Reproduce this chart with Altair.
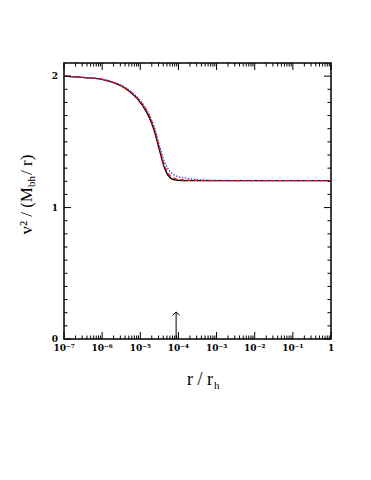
import altair as alt
import pandas as pd

# ---------------- data ----------------
log_r = [-7, -6.5, -6, -5.75, -5.5, -5.25, -5, -4.875, -4.75, -4.625, -4.5,
         -4.375, -4.25, -4.125, -4, -3.75, -3.5, -3, -2, -1, 0]
black = [2.0, 1.99, 1.975, 1.955, 1.925, 1.875, 1.80, 1.745, 1.675, 1.575, 1.44,
         1.31, 1.237, 1.213, 1.207, 1.205, 1.205, 1.205, 1.205, 1.205, 1.205]
red = [2.0, 1.99, 1.976, 1.957, 1.928, 1.88, 1.808, 1.756, 1.69, 1.592, 1.458,
       1.328, 1.252, 1.225, 1.215, 1.208, 1.206, 1.205, 1.205, 1.205, 1.205]
blue = [2.0, 1.99, 1.977, 1.958, 1.93, 1.885, 1.815, 1.765, 1.70, 1.605, 1.475,
        1.355, 1.285, 1.25, 1.235, 1.222, 1.213, 1.207, 1.205, 1.205, 1.205]

series_names = ["black", "blue", "red"]
series_values = [black, blue, red]
series_colors = ["#000000", "#3344ff", "#ff0000"]
series_dash = [[1, 0], [1.5, 1.5], [4, 3]]

x_decades = [1e-7, 1e-6, 1e-5, 1e-4, 1e-3, 1e-2, 1e-1, 1]
x_labels = ["10⁻⁷", "10⁻⁶", "10⁻⁵", "10⁻⁴", "10⁻³", "10⁻²", "10⁻¹", "1"]
x_minor_mult = [2, 3, 4, 5, 6, 7, 8, 9]
y_major = [0, 1, 2]
y_labels = ["0", "1", "2"]
y_minor = [0.1, 0.2, 0.3, 0.4, 0.5, 0.6, 0.7, 0.8, 0.9,
           1.1, 1.2, 1.3, 1.4, 1.5, 1.6, 1.7, 1.8, 1.9]

arrow_r = [8.7e-5]
arrow_base = [0.0]
arrow_top = [0.205]

W, H = 267, 276
TFONT = "Liberation Serif"
LFONT = "DejaVu Serif"

xscale = alt.Scale(type="log", domain=[1e-7, 1], nice=False)
yscale = alt.Scale(domain=[0, 2.1], nice=False, zero=False)

# ---------------- curves ----------------
line_layers = []
for name, vals, col, dash in zip(series_names, series_values,
                                 series_colors, series_dash):
    df = pd.DataFrame({"r": [10 ** lr for lr in log_r], "v": vals})
    line_layers.append(
        alt.Chart(df).mark_line(strokeWidth=1.3, interpolate="monotone",
                                color=col, strokeDash=dash).encode(
            x=alt.X("r:Q", scale=xscale, axis=None),
            y=alt.Y("v:Q", scale=yscale, axis=None),
        )
    )

# ---------------- ticks ----------------
x_minor = [m * d for d in x_decades[:-1] for m in x_minor_mult]
xmaj_df = pd.DataFrame({"r": x_decades, "lab": x_labels})
xmin_df = pd.DataFrame({"r": x_minor})
ymaj_df = pd.DataFrame({"v": y_major, "lab": y_labels})
ymin_df = pd.DataFrame({"v": y_minor})
arrow_df = pd.DataFrame({"r": arrow_r, "v0": arrow_base, "v1": arrow_top})


def xticks(df, y0, y1):
    return alt.Chart(df).mark_rule(color="black", strokeWidth=1).encode(
        x=alt.X("r:Q", scale=xscale, axis=None), y=alt.value(y0), y2=alt.value(y1))


def yticks(df, x0, x1):
    return alt.Chart(df).mark_rule(color="black", strokeWidth=1).encode(
        y=alt.Y("v:Q", scale=yscale, axis=None), x=alt.value(x0), x2=alt.value(x1))


MAJ, MIN = 7, 3.5
tick_layers = [
    xticks(xmaj_df, H, H - MAJ), xticks(xmin_df, H, H - MIN),
    xticks(xmaj_df, 0, MAJ), xticks(xmin_df, 0, MIN),
    yticks(ymaj_df, 0, MAJ), yticks(ymin_df, 0, MIN),
    yticks(ymaj_df, W, W - MAJ), yticks(ymin_df, W, W - MIN),
]

# tick labels
xlab = alt.Chart(xmaj_df).mark_text(
    font=LFONT, fontWeight="bold", fontSize=9, align="center",
    baseline="middle", color="black").encode(
    x=alt.X("r:Q", scale=xscale, axis=None), y=alt.value(H + 9), text="lab:N")
ylab = alt.Chart(ymaj_df).mark_text(
    font=LFONT, fontWeight="bold", fontSize=9, align="right",
    baseline="middle", color="black").encode(
    y=alt.Y("v:Q", scale=yscale, axis=None), x=alt.value(-6), text="lab:N")

# ---------------- arrow ----------------
arrow_shaft = alt.Chart(arrow_df).mark_rule(color="black", strokeWidth=1).encode(
    x=alt.X("r:Q", scale=xscale, axis=None),
    y=alt.Y("v0:Q", scale=yscale, axis=None), y2="v1:Q")
arrow_head = alt.Chart(arrow_df).mark_point(
    shape="M-1,0.9L0,0L1,0.9", filled=False, color="black", strokeWidth=1,
    size=50, opacity=1).encode(
    x=alt.X("r:Q", scale=xscale, axis=None),
    y=alt.Y("v1:Q", scale=yscale, axis=None))

# ---------------- axis titles ----------------
title_df = pd.DataFrame({"t": [0]})


def txt(text, x, y, size, align="left", angle=0):
    return alt.Chart(title_df).mark_text(
        text=text, font=TFONT, fontSize=size, align=align, baseline="alphabetic",
        angle=angle, color="black").encode(x=alt.value(x), y=alt.value(y))


titles = [
    txt("r / r", 149, 322, 18, align="right"),
    txt("h", 150, 325.5, 11, align="left"),
    txt("v² / (M", -32.5, 124, 17, align="right", angle=270),
    txt("bh", -29.5, 124, 11, align="left", angle=270),
    txt("/ r)", -32.5, 112, 17, align="left", angle=270),
]

chart = alt.layer(*line_layers, *tick_layers, xlab, ylab, arrow_shaft,
                  arrow_head, *titles).properties(
    width=W, height=H, autosize="none",
    padding={"left": 56, "top": 55, "right": 32, "bottom": 133},
    background="white",
).configure_view(stroke="black", strokeWidth=1.5)

chart.save("out.html", embed_options={"renderer": "svg", "actions": False})
